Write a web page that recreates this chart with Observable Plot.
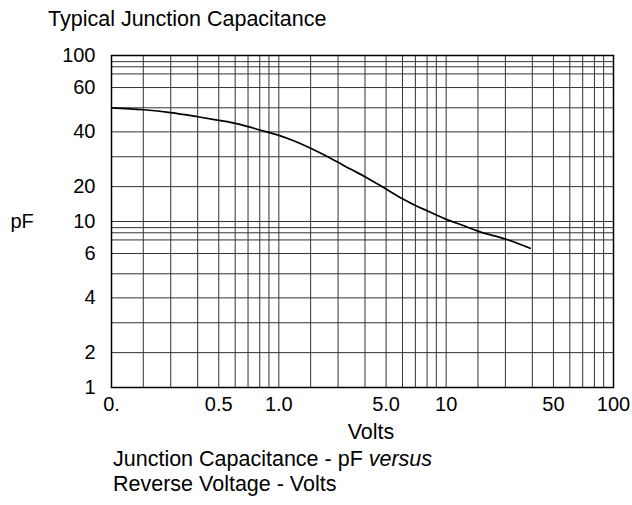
<!DOCTYPE html>
<html>
<head>
<meta charset="utf-8">
<script src="https://cdn.jsdelivr.net/npm/d3@7"></script>
<script src="https://cdn.jsdelivr.net/npm/@observablehq/plot@0.6"></script>
<style>
  body { margin: 0; background: #fff; }
  #wrap { position: relative; width: 632px; height: 505px; font-family: "Liberation Sans", Arial, Helvetica, sans-serif; color: #000; }
  .t { position: absolute; font-size: 21.5px; line-height: 21.5px; white-space: nowrap; }
  #chart { position: absolute; left: 0; top: 40px; }
</style>
</head>
<body>
<div id="wrap">
  <div class="t" style="left:48px; top:8.5px;">Typical Junction Capacitance</div>
  <div id="chart"></div>
  <div class="t" style="left:371px; top:422px; transform:translateX(-50%);">Volts</div>
  <div class="t" style="left:113px; top:448.5px;">Junction Capacitance - pF <i>versus</i></div>
  <div class="t" style="left:113px; top:473.5px;">Reverse Voltage - Volts</div>
</div>
<script>
// ---- data ----
const volts = [0.1, 0.2, 0.3, 0.4, 0.5, 0.6, 0.7, 0.8, 1.0, 1.38, 2, 2.45, 3, 3.46, 4, 5, 6, 7, 8, 9, 10, 14.3, 20, 30, 39.1];
const pF    = [50, 49.1, 47.8, 46.0, 44.5, 43.3, 42.0, 40.7, 38.4, 36.1, 33.1, 30.6, 27.8, 25.2, 22.9, 19.05, 15.7, 13.75, 12.38, 11.39, 10.43, 9.38, 8.31, 7.12, 6.37];

// grid of the log paper
const xGrid = [0.1, 0.2, 0.3, 0.4, 0.5, 0.6, 0.7, 0.8, 0.9, 1, 2, 3, 4, 5, 6, 7, 8, 9, 10, 20, 30, 40, 50, 60, 70, 80, 90, 100];
const yGrid = [1, 2, 3, 4, 5, 6, 7, 8, 9, 10, 20, 30, 40, 50, 60, 70, 80, 90, 100];

// tick labels
const xTicks = [0.1, 0.5, 1, 5, 10, 50, 100];
const xTickLabels = ["0.", "0.5", "1.0", "5.0", "10", "50", "100"];
const yTicks = [1, 2, 4, 6, 10, 20, 40, 60, 100];
const yTickLabels = ["1", "2", "4", "6", "10", "20", "40", "60", "100"];

// the printed log paper's in-decade spacing (fraction of a decade for mantissa 1..9)
const xDecadeFrac = [0, 0.19, 0.354, 0.515, 0.641, 0.739, 0.816, 0.886, 0.941];
const yDecadeFrac = [0, 0.21, 0.39, 0.54, 0.685, 0.807, 0.889, 0.932, 0.963];

// ---- layout ----
const W = 632, H = 380;
const mL = 111, mR = 19, mT = 15, mB = 33;

function paperRange(knots, fracs, start, end) {
  const lo = knots[0], hi = knots[knots.length - 1];
  const decades = Math.round(Math.log10(hi / lo));
  const D = (end - start) / decades;
  return knots.map(v => {
    const r = Math.log10(v / lo);
    const k = Math.floor(r + 1e-9);
    if (k >= decades) return end;
    const m = Math.round(v / (lo * Math.pow(10, k)));
    return start + (k + fracs[m - 1]) * D;
  });
}

const xRange = paperRange(xGrid, xDecadeFrac, mL, W - mR);
const yRange = paperRange(yGrid, yDecadeFrac, H - mB, mT);

const curve = volts.map((v, i) => ({v, c: pF[i]}));
const xLab = xTicks.map((v, i) => ({v, t: xTickLabels[i]}));
const yLab = yTicks.map((c, i) => ({c, t: yTickLabels[i]}));

const chart = Plot.plot({
  width: W,
  height: H,
  marginLeft: mL,
  marginRight: mR,
  marginTop: mT,
  marginBottom: mB,
  style: "font-family: 'Liberation Sans', Arial, Helvetica, sans-serif; font-size: 20px; color: #000; background: #fff; overflow: visible;",
  x: { type: "log", domain: xGrid, range: xRange, axis: null, label: null },
  y: { type: "log", domain: yGrid, range: yRange, axis: null, label: null },
  marks: [
    Plot.ruleX(xGrid, {stroke: "#333", strokeWidth: 1}),
    Plot.ruleY(yGrid, {stroke: "#333", strokeWidth: 1}),
    Plot.frame({stroke: "#000", strokeWidth: 1.5}),
    Plot.line(curve, {x: "v", y: "c", curve: "monotone-x", stroke: "#000", strokeWidth: 1.7}),
    Plot.text(xLab, {x: "v", text: "t", frameAnchor: "bottom", lineAnchor: "top", dy: 9, fontSize: 20, fill: "#000"}),
    Plot.text(yLab, {y: "c", text: "t", frameAnchor: "left", textAnchor: "end", dx: -16, fontSize: 20, fill: "#000"}),
    Plot.text([{t: "pF", c: 10}], {y: "c", text: "t", frameAnchor: "left", textAnchor: "start", dx: -101, fontSize: 20, fill: "#000"})
  ]
});
document.getElementById("chart").appendChild(chart);
</script>
</body>
</html>
